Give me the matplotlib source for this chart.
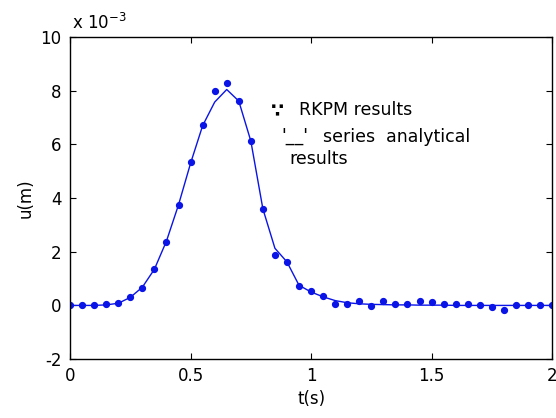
import matplotlib
matplotlib.use("Agg")
import matplotlib.pyplot as plt
import numpy as np

plt.rcParams["axes.unicode_minus"] = False

# time (s) and displacement u, in units of 1e-3 m
t = np.round(np.arange(0, 2.0001, 0.05), 2)
u_analytical = [0, 0, 0, 0.02, 0.08, 0.3, 0.68, 1.35, 2.4, 3.75,
                5.3, 6.7, 7.58, 8.05, 7.62, 6.13, 3.6, 2.13, 1.62, 0.75,
                0.5, 0.32, 0.18, 0.1, 0.06, 0.04, 0.03, 0.02, 0.02, 0.01,
                0.01, 0.01, 0, 0, 0, 0, 0, 0, 0, 0, 0]
u_rkpm = [0, 0, 0, 0.05, 0.1, 0.31, 0.66, 1.34, 2.38, 3.75,
          5.36, 6.73, 8.0, 8.3, 7.62, 6.13, 3.6, 1.87, 1.62, 0.71,
          0.53, 0.35, 0.06, 0.05, 0.17, -0.01, 0.16, 0.05, 0.05, 0.17,
          0.11, 0.05, 0.05, 0.05, 0, -0.07, -0.16, 0, 0, 0, 0]

xticks = [0, 0.5, 1, 1.5, 2]
xticklabels = ["0", "0.5", "1", "1.5", "2"]
yticks = [-2, 0, 2, 4, 6, 8, 10]

blue = "#0a14e6"

fig = plt.figure(figsize=(5.56, 4.18), dpi=100)
ax = fig.add_axes([0.126, 0.141, 0.867, 0.770])

ax.plot(t, u_analytical, "-", color=blue, lw=1.0)
ax.plot(t, u_rkpm, "o", color=blue, ms=4.2, mec=blue)

ax.set_xlim(0, 2)
ax.set_ylim(-2, 10)
ax.set_xticks(xticks)
ax.set_xticklabels(xticklabels)
ax.set_yticks(yticks)
ax.tick_params(direction="in", top=True, right=True, labelsize=12, length=4, pad=6)
for s in ax.spines.values():
    s.set_linewidth(1.0)

ax.set_xlabel("t(s)", fontsize=12, labelpad=3)
ax.set_ylabel("u(m)", fontsize=12, labelpad=4)

fig.text(0.129, 0.922, r"x 10$^{-3}$", fontsize=12, ha="left", va="bottom")

# legend-like annotation
tk = dict(fontsize=12.5, transform=ax.transData, va="center", ha="left")
ax.text(0.832, 7.2, "\u2235", fontsize=13.5, fontweight="bold",
        transform=ax.transData, va="center", ha="left")
ax.text(0.949, 7.28, "RKPM results", **tk)
ax.text(0.875, 6.3, "'__'", **tk)
ax.text(1.05, 6.28, "series  analytical", **tk)
ax.text(0.91, 5.47, "results", **tk)

fig.savefig("out.png", dpi=100)
